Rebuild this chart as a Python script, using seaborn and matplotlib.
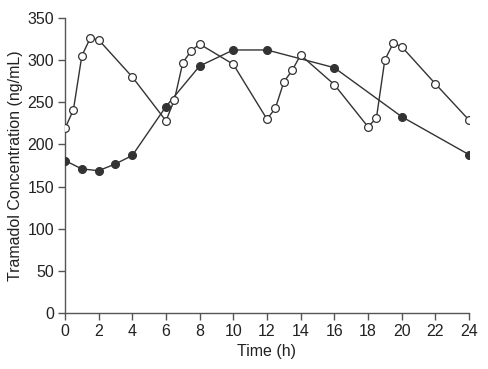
import matplotlib
matplotlib.use("Agg")
import matplotlib.pyplot as plt
import seaborn as sns
import pandas as pd

# Data
filled_time = [0, 1, 2, 3, 4, 6, 8, 10, 12, 16, 20, 24]
filled_conc = [181, 171, 169, 177, 187, 245, 293, 312, 312, 291, 233, 188]

open_time = [0, 0.5, 1, 1.5, 2, 4, 6, 6.5, 7, 7.5, 8, 10, 12, 12.5, 13, 13.5,
             14, 16, 18, 18.5, 19, 19.5, 20, 22, 24]
open_conc = [219, 241, 305, 326, 324, 280, 228, 253, 297, 311, 319, 295, 230, 243,
             274, 288, 306, 271, 221, 231, 300, 320, 316, 272, 229]

x_ticks = list(range(0, 25, 2))
y_ticks = list(range(0, 351, 50))

sns.set_style("ticks")
plt.rcParams['font.family'] = ['Liberation Sans', 'DejaVu Sans']

fig = plt.figure(figsize=(4.89, 3.69), dpi=100)
ax = fig.add_axes([0.1329, 0.151, 0.959 - 0.1329, 0.9515 - 0.151])

line_col = "#333333"
df_f = pd.DataFrame({"t": filled_time, "c": filled_conc})
df_o = pd.DataFrame({"t": open_time, "c": open_conc})

sns.lineplot(data=df_f, x="t", y="c", ax=ax, color=line_col, lw=1.0,
             marker="o", markersize=5.6, markerfacecolor=line_col,
             markeredgecolor=line_col, markeredgewidth=0.9, zorder=3)
sns.lineplot(data=df_o, x="t", y="c", ax=ax, color=line_col, lw=1.0,
             marker="o", markersize=5.6, markerfacecolor="white",
             markeredgecolor=line_col, markeredgewidth=0.9, zorder=4)

ax.set_xlim(0, 24)
ax.set_ylim(0, 350)
ax.set_xticks(x_ticks)
ax.set_yticks(y_ticks)
ax.tick_params(labelsize=11.5, length=5, width=1, color="#555555", pad=3,
               labelcolor="#222222")
for s in ["top", "right"]:
    ax.spines[s].set_visible(False)
for s in ["left", "bottom"]:
    ax.spines[s].set_color("#555555")
    ax.spines[s].set_linewidth(1)
ax.set_xlabel("Time (h)", fontsize=11.5, labelpad=3, color="#222222")
ax.set_ylabel("Tramadol Concentration (ng/mL)", fontsize=11.5, labelpad=3,
              color="#222222")

fig.savefig("out.png", dpi=100)
